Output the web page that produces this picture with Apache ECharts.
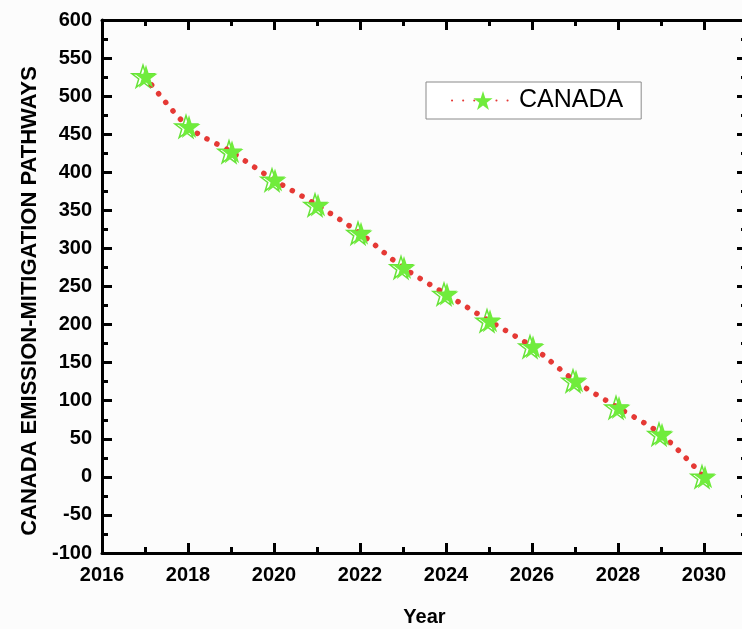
<!DOCTYPE html>
<html>
<head>
<meta charset="utf-8">
<script src="https://cdn.jsdelivr.net/npm/echarts@6/dist/echarts.min.js"></script>
<style>
html,body{margin:0;padding:0;background:#fcfcfc;}
#chart{width:742px;height:629px;}
</style>
</head>
<body>
<div id="chart"></div>
<script>
var years = [2017, 2018, 2019, 2020, 2021, 2022, 2023, 2024, 2025, 2026, 2027, 2028, 2029, 2030];
var canada = [526, 460, 427, 390, 357, 320, 275, 240, 205, 171, 126, 91, 56, 0];
var seriesName = 'CANADA';
var xTitle = 'Year';
var yTitle = 'CANADA EMISSION-MITIGATION PATHWAYS';

var STAR = 'path://M50,0 L61.8,35.1 L98.8,35.1 L68.9,56.8 L80.3,91.9 L50,70.2 L19.7,91.9 L31.1,56.8 L1.2,35.1 L38.2,35.1 Z';
var chart = echarts.init(document.getElementById('chart'), null, {renderer: 'canvas'});
var FONT = 'Liberation Sans, Arial, sans-serif';
var labelFont = {fontFamily: FONT, fontWeight: 'bold', fontSize: 20, color: '#000'};
var axisLine = {show: true, onZero: false, lineStyle: {color: '#000', width: 3}};
var axisTick = {show: true, inside: true, length: 10, lineStyle: {color: '#000', width: 3}};
var minorTick = {show: true, splitNumber: 2, length: 6, lineStyle: {color: '#000', width: 3}};
var pts = years.map(function(y, i){ return [y, canada[i]]; });

chart.setOption({
  backgroundColor: '#fcfcfc',
  animation: false,
  grid: {left: 102, top: 20, width: 645, height: 533, containLabel: false, outerBoundsMode: 'none'},
  graphic: [{
    type: 'text', x: 30, y: 301, rotation: Math.PI / 2,
    style: {text: yTitle, font: 'bold 22px ' + FONT, fill: '#000', align: 'center', verticalAlign: 'middle', x: 0, y: 0}
  }],
  legend: {
    left: 426, top: 82,
    orient: 'horizontal',
    data: [seriesName],
    itemWidth: 62, itemHeight: 24,
    padding: [6, 18, 6, 25],
    borderColor: '#8a8a8a', borderWidth: 1,
    backgroundColor: '#ffffff',
    textStyle: {fontFamily: FONT, fontSize: 25, color: '#000'}
  },
  xAxis: [{
    type: 'value', min: 2016, max: 2031, interval: 2,
    position: 'bottom',
    name: xTitle, nameLocation: 'middle', nameGap: 54,
    nameTextStyle: {fontFamily: FONT, fontWeight: 'bold', fontSize: 20, color: '#000'},
    axisLine: axisLine, axisTick: axisTick, minorTick: minorTick,
    splitLine: {show: false},
    axisLabel: Object.assign({margin: 12, showMaxLabel: false, formatter: function(v){return String(v);}}, labelFont)
  }, {
    type: 'value', min: 2016, max: 2031, interval: 2,
    position: 'top',
    axisLine: axisLine, axisTick: axisTick, minorTick: minorTick,
    splitLine: {show: false}, axisLabel: {show: false}
  }],
  yAxis: [{
    type: 'value', min: -100, max: 600, interval: 50,
    position: 'left',
    axisLine: axisLine, axisTick: axisTick, minorTick: minorTick,
    splitLine: {show: false},
    axisLabel: Object.assign({margin: 10}, labelFont)
  }, {
    type: 'value', min: -100, max: 600, interval: 50,
    position: 'right',
    axisLine: axisLine, axisTick: axisTick, minorTick: minorTick,
    splitLine: {show: false}, axisLabel: {show: false}
  }],
  series: [{
    name: seriesName + '_outline',
    type: 'line',
    xAxisIndex: 0, yAxisIndex: 0,
    data: pts,
    symbol: STAR,
    symbolSize: 22,
    symbolOffset: [-2, 0],
    showAllSymbol: true,
    lineStyle: {opacity: 0},
    itemStyle: {color: '#ffffff', borderColor: '#66e337', borderWidth: 1.5},
    z: 2
  }, {
    name: seriesName,
    type: 'line',
    xAxisIndex: 0, yAxisIndex: 0,
    smooth: 0.3,
    data: pts,
    symbol: STAR,
    symbolSize: 23,
    symbolOffset: [1, 0],
    itemStyle: {color: '#70ec3c', borderColor: '#70ec3c', borderWidth: 0},
    lineStyle: {color: '#e53935', width: 5.5, type: [0.1, 11], cap: 'round'},
    z: 3
  }]
});
</script>
</body>
</html>
